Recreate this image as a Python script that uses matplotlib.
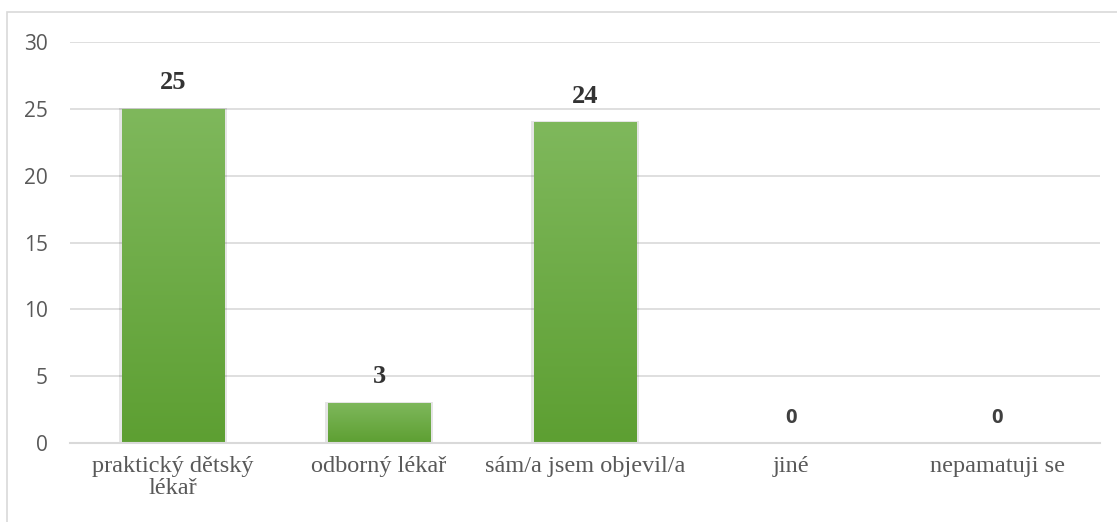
import numpy as np
import matplotlib.pyplot as plt
from matplotlib.patches import Rectangle
from matplotlib.colors import LinearSegmentedColormap

categories = ["praktický dětský\nlékař", "odborný lékař", "sám/a jsem objevil/a", "jiné", "nepamatuji se"]
counts = [25, 3, 24, 0, 0]
y_ticks = [0, 5, 10, 15, 20, 25, 30]

fig = plt.figure(figsize=(11.17, 5.22), dpi=100)
ax = fig.add_axes([0.0627, 0.1513, 0.9221, 0.7682])

# outer chart border
fig.patches.append(Rectangle((0.0063, -0.01), 1.0, 0.987, transform=fig.transFigure,
                             fill=False, edgecolor="#d9d9d9", linewidth=1.2))

x = np.arange(len(categories))
bars = ax.bar(x, counts, width=0.5, color="#6aab42", zorder=3)

# vertical gradient in each bar, light on top
grad = np.linspace(1, 0, 256).reshape(-1, 1)
cmap = LinearSegmentedColormap.from_list("g", ["#5d9f32", "#7fb85c"])
for b in bars:
    h = b.get_height()
    if h <= 0:
        continue
    x0 = b.get_x()
    w = b.get_width()
    # soft shadow
    ax.add_patch(Rectangle((x0 - 0.01, 0), w + 0.02, h + 0.1, color="#000000",
                           alpha=0.1, zorder=2, linewidth=0))
    im = ax.imshow(grad, extent=[x0, x0 + w, 0, h], aspect="auto", cmap=cmap,
                   vmin=0, vmax=1, zorder=4)
    im.set_clip_path(b)

for xi, v in zip(x, counts):
    if v > 0:
        ax.text(xi, v + 1.1, str(v), ha="center", va="bottom", fontsize=19,
                fontweight="bold", family="Liberation Serif", color="#333333", zorder=5)
    else:
        ax.text(xi, v + 1.9, str(v), ha="center", va="center", fontsize=14.5,
                fontweight="bold", family="Open Sans", color="#404040", zorder=5)

ax.set_xlim(-0.5, len(categories) - 0.5)
ax.set_ylim(0, 30)
ax.set_yticks(y_ticks)
ax.set_yticklabels([str(t) for t in y_ticks], family="Open Sans", fontsize=15, color="#595959")
ax.set_xticks(x)
ax.set_xticklabels(categories, family="Liberation Serif", fontsize=17.5, color="#595959",
                   linespacing=1.12, va="top")
ax.tick_params(axis="both", length=0)
ax.tick_params(axis="y", pad=16)
ax.tick_params(axis="x", pad=9)

ax.grid(axis="y", color="#d9d9d9", linewidth=1.2, zorder=0)
for s in ["top", "right", "left"]:
    ax.spines[s].set_visible(False)
ax.spines["bottom"].set_color("#d9d9d9")
ax.spines["bottom"].set_linewidth(1.5)
ax.spines["bottom"].set_zorder(6)

plt.savefig("out.png", dpi=100)
